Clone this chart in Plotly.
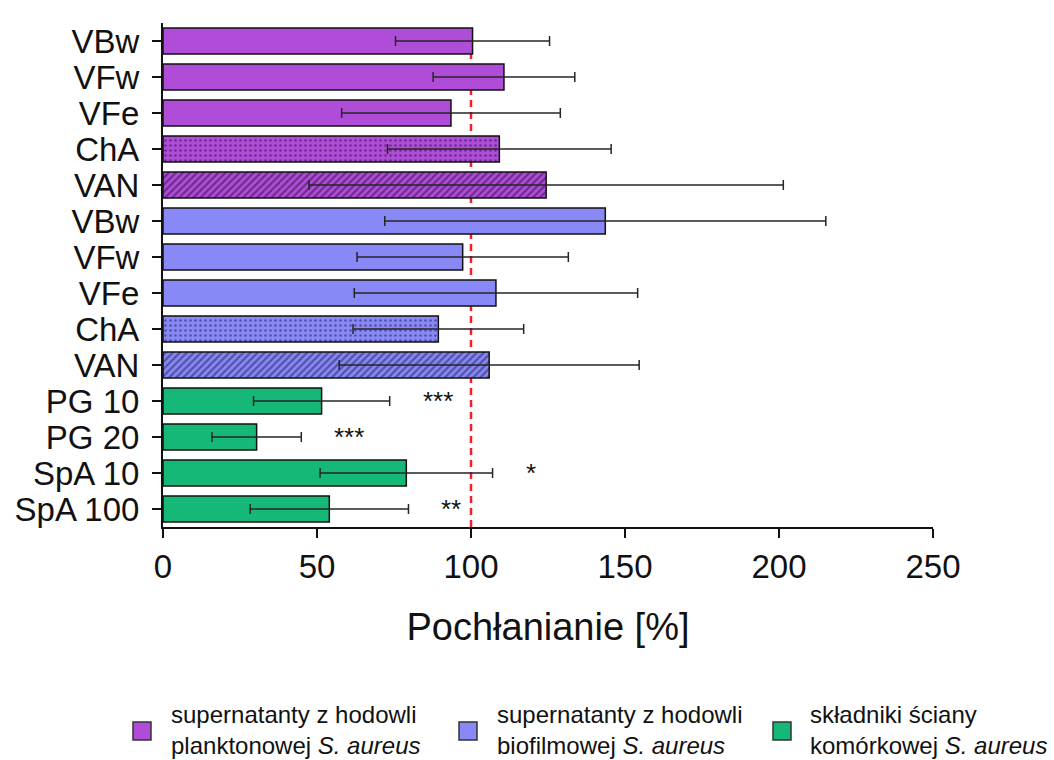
import plotly.graph_objects as go

# --- data -------------------------------------------------------------
plankton_labels = ["VBw", "VFw", "VFe", "ChA", "VAN"]
plankton_mean = [100.5, 110.7, 93.5, 109.2, 124.4]
plankton_sd = [25.0, 23.0, 35.5, 36.3, 77.0]

biofilm_labels = ["VBw", "VFw", "VFe", "ChA", "VAN"]
biofilm_mean = [143.6, 97.3, 108.1, 89.4, 105.9]
biofilm_sd = [71.6, 34.3, 46.0, 27.7, 48.7]

wall_labels = ["PG 10", "PG 20", "SpA 10", "SpA 100"]
wall_mean = [51.5, 30.4, 79.0, 54.0]
wall_sd = [22.1, 14.5, 28.0, 25.7]
wall_sig = ["***", "***", "*", "**"]

group_names = [
    "supernatanty z hodowli<br>planktonowej <i>S. aureus</i>",
    "supernatanty z hodowli<br>biofilmowej <i>S. aureus</i>",
    "składniki ściany<br>komórkowej <i>S. aureus</i>",
]

control_level = 100
x_ticks = [0, 50, 100, 150, 200, 250]

# --- styling ----------------------------------------------------------
FONT = "Liberation Sans, Arial, sans-serif"
W, H = 1054, 760
ML, MR, MT, MB = 163, 121, 23, 233
PW, PH = W - ML - MR, H - MT - MB

colors = ["#B04DD8", "#8888F6", "#16B877"]
pattern_fg = ["#2A0C40", "#1C1C55", "#0B4A30"]
supernatant_patterns = ["", "", "", ".", "/"]
pattern_solidity = [0, 0, 0, 0.22, 0.45]

groups = [
    (plankton_labels, plankton_mean, plankton_sd, supernatant_patterns),
    (biofilm_labels, biofilm_mean, biofilm_sd, supernatant_patterns),
    (wall_labels, wall_mean, wall_sd, [""] * len(wall_labels)),
]

fig = go.Figure()

all_labels = []
row = 0
row_positions = []
for gi, (labels, means, sds, shapes) in enumerate(groups):
    ys = list(range(row, row + len(labels)))
    row_positions.append(ys)
    row += len(labels)
    all_labels += labels
    fig.add_trace(go.Bar(
        x=means,
        y=ys,
        orientation="h",
        width=0.72,
        name=group_names[gi],
        showlegend=False,
        marker=dict(
            color=colors[gi],
            line=dict(color="#111111", width=1.5),
            pattern=dict(
                shape=shapes,
                fillmode="overlay",
                fgcolor=pattern_fg[gi],
                size=5,
                solidity=pattern_solidity[:len(shapes)],
            ),
        ),
        error_x=dict(
            type="data",
            array=sds,
            symmetric=True,
            visible=True,
            color="#262626",
            thickness=1.5,
            width=5,
        ),
    ))

# significance marks beside the cell-wall component error bars
for y, m, s, sig in zip(row_positions[2], wall_mean, wall_sd, wall_sig):
    fig.add_annotation(
        x=m + s, y=y, text=sig, showarrow=False,
        xanchor="left", yanchor="middle", xshift=31, yshift=0,
        font=dict(family=FONT, size=26, color="#111111"),
    )

# reference line at 100 %
fig.add_shape(
    type="line", x0=control_level, x1=control_level, y0=0, y1=1,
    xref="x", yref="y domain", layer="below",
    line=dict(color="#F0202A", width=2.5, dash="7px,5px"),
)


# legend drawn as boxes + two-line captions
def px_x(p):
    return (p - ML) / PW


def px_y(p):
    return (MT + PH - p) / PH


legend_box_x = [133, 459, 773]
legend_text_x = [169, 495, 808]
legend_cy = 731
for gi in range(3):
    fig.add_shape(
        type="rect", xref="paper", yref="paper",
        x0=px_x(legend_box_x[gi]), x1=px_x(legend_box_x[gi] + 18),
        y0=px_y(legend_cy + 9), y1=px_y(legend_cy - 9),
        fillcolor=colors[gi], line=dict(color="#333333", width=1.5),
    )
    fig.add_annotation(
        x=px_x(legend_text_x[gi]), y=px_y(legend_cy - 1),
        xref="paper", yref="paper", text=group_names[gi],
        showarrow=False, xanchor="left", yanchor="middle", align="left",
        font=dict(family=FONT, size=24, color="#111111"),
    )

fig.update_layout(
    width=W, height=H, autosize=False,
    margin=dict(l=ML, r=MR, t=MT, b=MB, pad=0),
    paper_bgcolor="white", plot_bgcolor="white",
    font=dict(family=FONT, color="#111111"),
    bargap=0.28,
    xaxis=dict(
        range=[0, 250], tickvals=x_ticks,
        showline=True, linecolor="#111111", linewidth=2,
        ticks="outside", ticklen=9, tickwidth=2, tickcolor="#111111",
        tickfont=dict(family=FONT, size=33, color="#111111"),
        showgrid=False, zeroline=False,
        title=dict(text="Pochłanianie [%]", standoff=30,
                   font=dict(family=FONT, size=38, color="#111111")),
    ),
    yaxis=dict(
        range=[len(all_labels) - 0.5, -0.5],
        tickvals=list(range(len(all_labels))), ticktext=all_labels,
        showline=True, linecolor="#111111", linewidth=2,
        ticks="outside", ticklen=9, tickwidth=2, tickcolor="#111111",
        tickfont=dict(family=FONT, size=33, color="#111111"),
        ticklabelstandoff=6,
        showgrid=False, zeroline=False,
    ),
)

fig.write_html("out.html")
